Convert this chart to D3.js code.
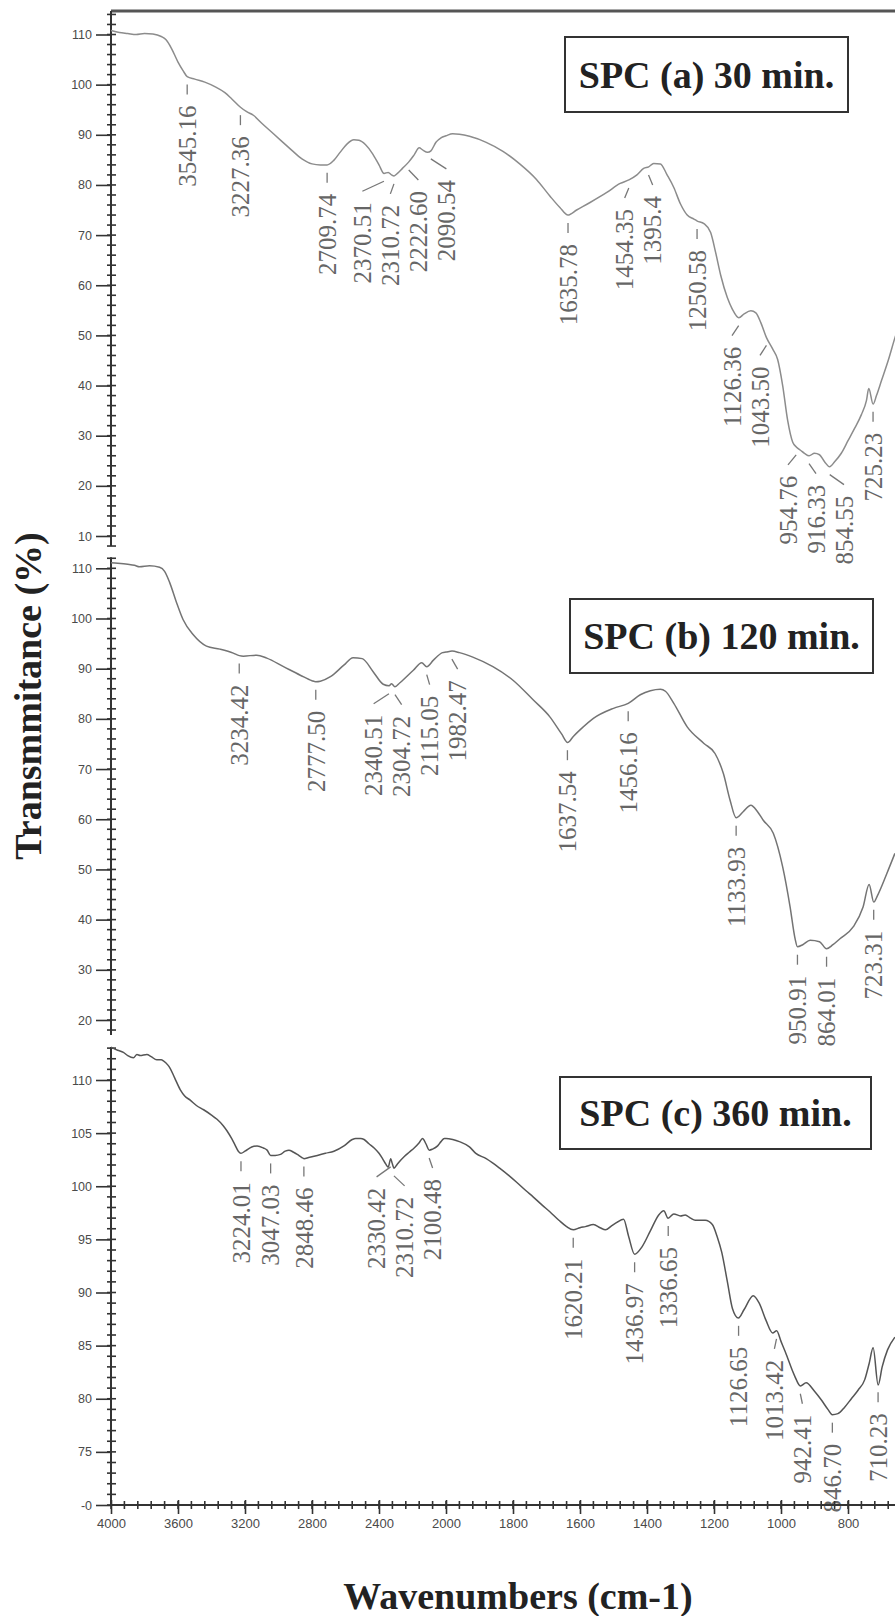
<!DOCTYPE html>
<html><head><meta charset="utf-8">
<script src="https://cdn.jsdelivr.net/npm/d3@7"></script>
<style>body{margin:0;background:#fff}svg{display:block}</style>
</head><body><svg id="c" width="895" height="1616"></svg>
<script>
// ---------------- data ----------------
const xTicks = [4000,3600,3200,2800,2400,2000,1800,1600,1400,1200,1000,800];
const panelTitles = ["SPC (a) 30 min.", "SPC (b) 120 min.", "SPC (c) 360 min."];
const yTicksA = [10,20,30,40,50,60,70,80,90,100,110];
const yTicksB = [20,30,40,50,60,70,80,90,100,110];
const yTicksC = [70,75,80,85,90,95,100,105,110];
const yTickLabelsC = ["-0","75","80","85","90","95","100","105","110"];
const xTitle = "Wavenumbers (cm-1)";
const yTitle = "Transmmitance (%)";

const spectrumA = [[4000,110.8],[3950,110.4],[3900,110.2],[3850,110.0],[3800,110.2],[3750,110.1],[3700,109.6],[3670,108.9],[3640,107.3],[3600,104.5],[3570,102.8],[3545,101.6],[3500,101.1],[3440,100.5],[3380,99.6],[3320,98.4],[3280,97.2],[3227,95.5],[3190,94.6],[3150,93.9],[3100,92.3],[3040,90.5],[2980,88.7],[2920,86.9],[2860,85.2],[2800,84.2],[2750,84.0],[2710,84.0],[2670,84.9],[2630,86.6],[2590,88.2],[2550,89.0],[2520,88.9],[2480,88.0],[2440,86.3],[2400,84.0],[2370,82.3],[2345,82.5],[2325,82.0],[2310,81.8],[2290,82.3],[2260,83.3],[2222,84.6],[2190,86.0],[2160,87.4],[2140,87.0],[2110,86.5],[2090,86.8],[2060,88.5],[2030,89.4],[2000,89.8],[1980,90.2],[1960,90.1],[1930,89.7],[1880,88.5],[1830,86.7],[1780,84.2],[1730,81.1],[1690,77.8],[1660,75.5],[1636,74.0],[1610,75.0],[1570,76.5],[1520,78.5],[1480,80.3],[1454,81.0],[1430,82.0],[1410,83.3],[1395,83.6],[1380,84.3],[1360,84.2],[1340,82.0],[1320,79.5],[1300,76.2],[1280,74.0],[1260,73.2],[1250,72.8],[1230,72.3],[1210,70.5],[1195,66.5],[1180,62.0],[1160,57.5],[1145,55.2],[1126,53.5],[1110,54.3],[1090,54.9],[1075,54.5],[1060,52.5],[1043,49.5],[1025,47.3],[1010,45.2],[995,40.0],[980,33.0],[965,28.7],[955,27.8],[940,27.0],[930,26.5],[916,26.0],[900,26.5],[885,26.2],[870,24.8],[855,23.8],[840,24.8],[820,26.5],[800,29.0],[780,31.5],[760,34.2],[745,37.0],[738,39.4],[725,36.3],[715,38.0],[700,41.0],[680,45.0],[660,49.5],[645,52.5]];
const peaksA = ["3545.16","3227.36","2709.74","2370.51","2310.72","2222.60","2090.54","1635.78","1454.35","1395.4","1250.58","1126.36","1043.50","954.76","916.33","854.55","725.23"];

const spectrumB = [[4000,111.1],[3960,111.0],[3900,110.8],[3860,110.6],[3830,110.3],[3770,110.5],[3710,110.2],[3680,109.4],[3650,107.2],[3610,103.3],[3570,99.8],[3510,96.8],[3430,94.5],[3350,93.9],[3270,93.1],[3234,92.6],[3210,92.5],[3130,92.7],[3070,92.1],[2970,90.4],[2870,88.7],[2800,87.6],[2778,87.4],[2750,87.5],[2690,88.4],[2610,90.7],[2555,92.2],[2500,92.0],[2435,89.4],[2375,86.9],[2340,86.6],[2325,87.0],[2305,86.4],[2275,87.2],[2195,89.7],[2145,91.2],[2115,90.4],[2075,91.7],[2020,93.2],[2000,93.3],[1982,93.5],[1960,93.2],[1920,92.3],[1860,90.4],[1800,87.7],[1740,83.8],[1690,80.4],[1655,77.0],[1637,75.3],[1620,76.5],[1600,77.8],[1560,80.1],[1500,82.1],[1456,83.1],[1420,84.8],[1390,85.6],[1360,85.9],[1345,85.5],[1320,83.1],[1280,78.4],[1230,75.1],[1197,73.1],[1172,69.1],[1152,63.8],[1134,60.3],[1113,61.5],[1090,62.8],[1070,61.5],[1053,59.8],[1023,57.2],[995,50.5],[973,42.6],[958,36.2],[951,34.6],[935,35.0],[913,35.9],[885,35.6],[864,34.2],[845,35.0],[824,36.2],[784,38.6],[755,42.5],[737,47.0],[723,43.5],[712,44.8],[684,49.2],[660,53.2]];
const peaksB = ["3234.42","2777.50","2340.51","2304.72","2115.05","1982.47","1637.54","1456.16","1133.93","950.91","864.01","723.31"];

const spectrumC = [[4000,113.1],[3960,112.8],[3926,112.6],[3900,112.3],[3866,112.1],[3845,112.4],[3826,112.3],[3786,112.4],[3760,112.2],[3727,111.9],[3700,111.9],[3687,111.8],[3660,111.4],[3647,111.1],[3620,110.2],[3587,109.1],[3560,108.5],[3527,108.1],[3490,107.6],[3447,107.2],[3400,106.7],[3367,106.3],[3330,105.7],[3307,105.2],[3280,104.5],[3260,103.9],[3240,103.3],[3224,103.1],[3200,103.3],[3160,103.7],[3128,103.8],[3090,103.6],[3068,103.4],[3047,102.9],[3020,102.9],[2988,103.0],[2960,103.3],[2938,103.4],[2910,103.2],[2888,103.0],[2860,102.7],[2848,102.6],[2820,102.7],[2768,102.9],[2720,103.1],[2669,103.3],[2609,103.8],[2560,104.4],[2539,104.5],[2510,104.5],[2489,104.4],[2460,104.0],[2429,103.6],[2400,103.1],[2379,102.6],[2360,102.1],[2345,101.8],[2330,102.6],[2322,102.2],[2310,101.7],[2290,102.1],[2249,102.8],[2220,103.2],[2190,103.6],[2160,104.1],[2140,104.5],[2120,104.0],[2100,103.4],[2080,103.5],[2050,103.8],[2030,104.2],[2010,104.5],[2000,104.5],[1980,104.4],[1960,104.2],[1930,103.7],[1911,103.1],[1880,102.6],[1861,102.2],[1840,101.7],[1812,101.0],[1790,100.4],[1762,99.6],[1740,99.0],[1712,98.2],[1690,97.6],[1663,96.8],[1640,96.2],[1620,95.9],[1600,96.1],[1584,96.2],[1560,96.4],[1540,96.1],[1524,95.9],[1505,96.3],[1490,96.6],[1470,96.9],[1455,95.3],[1437,93.6],[1415,94.3],[1390,95.8],[1365,97.3],[1350,97.7],[1337,97.0],[1320,97.4],[1300,97.2],[1286,97.3],[1270,97.0],[1256,96.8],[1226,96.8],[1205,96.4],[1190,95.2],[1177,93.8],[1160,91.0],[1145,88.5],[1127,87.6],[1110,88.4],[1083,89.7],[1065,89.0],[1045,87.4],[1025,86.2],[1013,86.4],[1000,85.4],[987,84.4],[960,82.2],[942,81.2],[925,81.5],[900,80.7],[880,79.9],[860,79.0],[847,78.5],[830,78.6],[810,79.2],[790,80.0],[770,80.8],[750,81.8],[737,83.3],[725,84.8],[710,81.3],[698,83.0],[682,84.6],[660,85.8]];
const peaksC = ["3224.01","3047.03","2848.46","2330.42","2310.72","2100.48","1620.21","1436.97","1336.65","1126.65","1013.42","942.41","846.70","710.23"];

// ---------------- layout ----------------
const svg = d3.select("#c");
const W = 895, AX = 111, XAXIS_Y = 1505;
const x = d3.scaleLinear().domain([4000, 2000, 400]).range([AX, 446, 982]);

const panels = [
  {data: spectrumA, peaks: peaksA, ticks: yTicksA, labels: yTicksA.map(String), title: panelTitles[0],
   y: d3.scaleLinear().domain([10,110]).range([536,34.5]), minor: d3.range(8,114.1,2), ext:[8,114.7],
   color:"#8c8c8c", box:[565,37,283,75]},
  {data: spectrumB, peaks: peaksB, ticks: yTicksB, labels: yTicksB.map(String), title: panelTitles[1],
   y: d3.scaleLinear().domain([20,110]).range([1020,568.3]), minor: d3.range(18,112.1,2), ext:[17,112.2],
   color:"#747474", box:[570,599,303,74]},
  {data: spectrumC, peaks: peaksC, ticks: yTicksC, labels: yTickLabelsC, title: panelTitles[2],
   y: d3.scaleLinear().domain([70,110]).range([XAXIS_Y,1080]), minor: d3.range(70,113.1,1), ext:[70,113.1],
   color:"#555555", box:[560,1077,311,72]}
];

function tAt(data, wn){
  for(let i=0;i<data.length-1;i++){
    const a=data[i], b=data[i+1];
    if(wn<=a[0] && wn>=b[0]){ const t=(a[0]-wn)/(a[0]-b[0]); return a[1]+t*(b[1]-a[1]); }
  }
  return data[data.length-1][1];
}
function spread(xs, gap){
  const p = xs.slice();
  for(let it=0; it<400; it++){
    let moved=false;
    for(let i=0;i<p.length-1;i++){
      const d=p[i+1]-p[i];
      if(d<gap-0.01){const s=(gap-d)/2; p[i]-=s; p[i+1]+=s; moved=true;}
    }
    if(!moved) break;
  }
  return p;
}

// top frame line
svg.append("line").attr("x1",AX).attr("x2",W).attr("y1",11).attr("y2",11)
  .attr("stroke","#555").attr("stroke-width",3);

panels.forEach(P=>{
  const g = svg.append("g");
  g.append("line").attr("x1",AX).attr("x2",AX).attr("y1",P.y(P.ext[0])).attr("y2",P.y(P.ext[1]))
    .attr("stroke","#333").attr("stroke-width",2);
  g.selectAll("line.mn").data(P.minor).join("line").attr("class","mn")
    .attr("x1",AX-4).attr("x2",AX+5).attr("y1",d=>P.y(d)).attr("y2",d=>P.y(d))
    .attr("stroke","#333").attr("stroke-width",1.6);
  const ax = d3.axisLeft(P.y).tickValues(P.ticks).tickFormat((d,i)=>P.labels[i])
    .tickSizeInner(15).tickSizeOuter(0).tickPadding(4);
  const ag = g.append("g").attr("transform",`translate(${AX},0)`).call(ax);
  ag.select(".domain").remove();
  ag.selectAll("line").attr("stroke","#333").attr("stroke-width",1.6);
  ag.selectAll("text").attr("font-family","'Liberation Sans', Arial, sans-serif")
    .attr("font-size",12.5).attr("fill","#4a4a4a");

  const line = d3.line().x(d=>x(d[0])).y(d=>P.y(d[1])).curve(d3.curveMonotoneX);
  g.append("path").datum(P.data).attr("d",line).attr("fill","none")
    .attr("stroke",P.color).attr("stroke-width",1.5);

  const tx = P.peaks.map(p=>x(+p));
  const lx = spread(tx, 28);
  P.peaks.forEach((p,i)=>{
    const wn=+p;
    const cy = P.y(tAt(P.data, wn));
    const cyL = P.y(tAt(P.data, x.invert(lx[i])));
    const y0 = cy+8;
    const y1 = Math.max(cy+18, cyL+14);
    g.append("line").attr("x1",tx[i]).attr("y1",y0).attr("x2",lx[i]).attr("y2",y1)
      .attr("stroke","#777").attr("stroke-width",1.3);
    g.append("text").attr("transform",`translate(${lx[i]},${y1+11}) rotate(-90)`)
      .attr("text-anchor","end").attr("dy","0.35em")
      .attr("font-family","'Liberation Serif','Times New Roman',serif").attr("font-size",25)
      .attr("fill","#666").text(p);
  });

  const [bx,by,bw,bh] = P.box;
  g.append("rect").attr("x",bx).attr("y",by).attr("width",bw).attr("height",bh)
    .attr("fill","#fff").attr("stroke","#333").attr("stroke-width",2);
  g.append("text").attr("x",bx+bw/2).attr("y",by+bh/2).attr("dy","0.35em")
    .attr("text-anchor","middle").attr("font-family","'Liberation Serif','Times New Roman',serif")
    .attr("font-weight","bold").attr("font-size",38).attr("fill","#222").text(P.title);
});

// x axis
const xg = svg.append("g");
xg.append("line").attr("x1",AX).attr("x2",W).attr("y1",XAXIS_Y).attr("y2",XAXIS_Y)
  .attr("stroke","#333").attr("stroke-width",2);
const xMinor = d3.range(4000,2000,-80).concat(d3.range(2000,640,-40));
xg.selectAll("line.mn").data(xMinor).join("line").attr("class","mn")
  .attr("x1",d=>x(d)).attr("x2",d=>x(d)).attr("y1",XAXIS_Y-4).attr("y2",XAXIS_Y+4)
  .attr("stroke","#333").attr("stroke-width",1.6);
const xa = d3.axisBottom(x).tickValues(xTicks).tickFormat(d3.format("d"))
  .tickSizeInner(9).tickSizeOuter(0).tickPadding(5);
const xag = xg.append("g").attr("transform",`translate(0,${XAXIS_Y})`).call(xa);
xag.select(".domain").remove();
xag.selectAll("line").attr("stroke","#333").attr("stroke-width",1.6).attr("y1",-5);
xag.selectAll("text").attr("font-family","'Liberation Sans', Arial, sans-serif")
  .attr("font-size",13).attr("fill","#4a4a4a");

// axis titles
svg.append("text").attr("x",518).attr("y",1609).attr("text-anchor","middle")
  .attr("font-family","'Liberation Serif','Times New Roman',serif").attr("font-weight","bold")
  .attr("font-size",38).attr("fill","#222").text(xTitle);
svg.append("text").attr("transform","translate(41,696) rotate(-90)").attr("text-anchor","middle")
  .attr("font-family","'Liberation Serif','Times New Roman',serif").attr("font-weight","bold")
  .attr("font-size",38).attr("fill","#222").text(yTitle);
</script></body></html>
